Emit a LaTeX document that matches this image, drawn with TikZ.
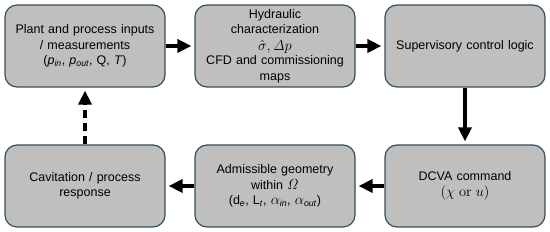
\RequirePackage{fix-cm}
\documentclass[tikz,border=0pt]{standalone}
\usepackage[no-math]{fontspec}
\setmainfont{Liberation Sans}
\usetikzlibrary{arrows.meta}
\definecolor{boxfill}{RGB}{191,191,191}
\definecolor{boxline}{RGB}{52,78,94}
\newcommand{\bigmath}[1]{{\fontsize{14.5}{15.5}\selectfont$#1$}}
\tikzset{
  stage/.style={draw=boxline, fill=boxfill, line width=1.2pt, rounded corners=12pt,
    minimum width=160pt, minimum height=82pt, align=center, text width=150pt,
    inner sep=0pt, font=\fontsize{12.5}{15.5}\selectfont},
  flow/.style={line width=3.8pt, -{Triangle[length=14pt,width=13pt]}, shorten >=3pt},
}
\begin{document}
\begin{tikzpicture}[x=1pt,y=1pt]
\useasboundingbox (0,0) rectangle (550,232);
% top row
\node[stage] (plant) at (85,186) {Plant and process inputs\\ / measurements\\
  (\textit{p\textsubscript{in}}, \textit{p\textsubscript{out}}, Q, \textit{T})};
\node[stage] (hydro) at (275,186) {Hydraulic\\ characterization\\[1.5pt]
  \bigmath{\hat{\sigma}, \mathit{\Delta} p}\\[-1.5pt] CFD and commissioning\\ maps};
\node[stage] (superv) at (465,186) {Supervisory control logic};
% bottom row
\node[stage] (cavit) at (85,46) {Cavitation / process\\ response};
\node[stage] (geom) at (275,46) {Admissible geometry\\ within \bigmath{\mathit{\Omega}}\\
  (d\textsubscript{\textit{e}}, L\textsubscript{\textit{t}},
  \bigmath{\alpha}\textsubscript{\textit{in}}, \bigmath{\alpha}\textsubscript{\textit{out}})};
\node[stage] (dcva) at (465,46) {DCVA command\\ \bigmath{(\chi\ \mathrm{or}\ u)}};
% connectors
\draw[flow] (plant) -- (hydro);
\draw[flow] (hydro) -- (superv);
\draw[flow] (superv) -- (dcva);
\draw[flow] (dcva) -- (geom);
\draw[flow] (geom) -- (cavit);
\draw[flow, dash pattern=on 8pt off 5pt] (cavit) -- (plant);
\end{tikzpicture}
\end{document}
